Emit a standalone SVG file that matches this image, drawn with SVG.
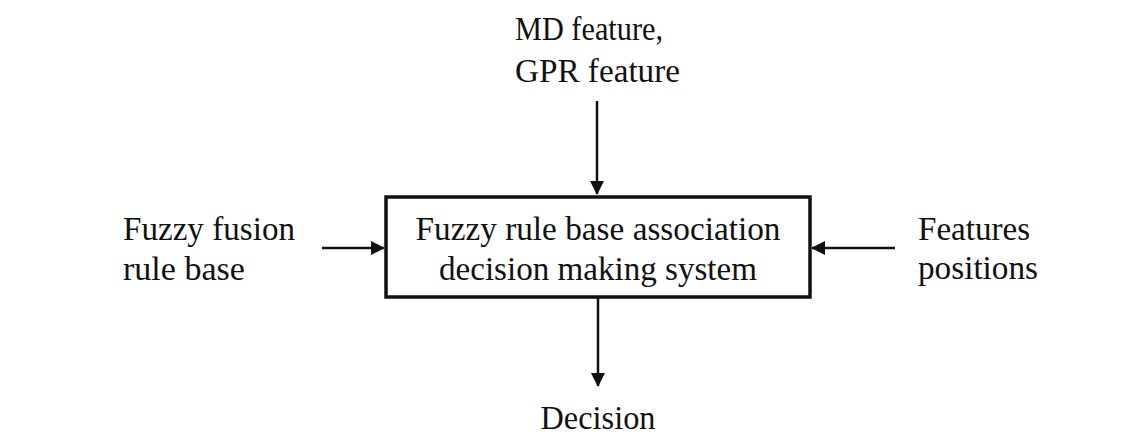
<svg xmlns="http://www.w3.org/2000/svg" width="1145" height="435" viewBox="0 0 1145 435">
<style>
text{font-family:"Liberation Serif","DejaVu Serif",serif;font-size:34px;fill:#111}
.c{stroke:#111;stroke-width:2.5;fill:none}
</style>
<defs>
<marker id="ahL" markerWidth="14" markerHeight="14" refX="13" refY="7" orient="auto" markerUnits="userSpaceOnUse" viewBox="0 0 14 14">
<path d="M0,0 L14,7 L0,14 Z" fill="#111"/>
</marker>
</defs>
<rect width="1145" height="435" fill="#fff"/>
<g id="connectors">
<line class="c" x1="597" y1="101" x2="597" y2="194" marker-end="url(#ahL)"/>
<line class="c" x1="322" y1="248" x2="384" y2="248" stroke-width="3.5" marker-end="url(#ahL)"/>
<line class="c" x1="895" y1="248" x2="812" y2="248" stroke-width="3.5" marker-end="url(#ahL)"/>
<line class="c" x1="598" y1="298" x2="598" y2="386" marker-end="url(#ahL)"/>
</g>
<g id="system">
<rect x="386" y="197" width="424" height="100" fill="none" stroke="#111" stroke-width="3.5"/>
<text x="598" y="240" text-anchor="middle" textLength="365" lengthAdjust="spacingAndGlyphs">Fuzzy rule base association</text>
<text x="598" y="280" text-anchor="middle" textLength="318" lengthAdjust="spacingAndGlyphs">decision making system</text>
</g>
<g id="md-gpr">
<text x="515" y="40" textLength="148" lengthAdjust="spacingAndGlyphs">MD feature,</text>
<text x="515" y="82" textLength="165" lengthAdjust="spacingAndGlyphs">GPR feature</text>
</g>
<g id="fusion-rule">
<text x="123" y="240" textLength="172" lengthAdjust="spacingAndGlyphs">Fuzzy fusion</text>
<text x="123" y="280" textLength="122" lengthAdjust="spacingAndGlyphs">rule base</text>
</g>
<g id="features">
<text x="918" y="240" textLength="112" lengthAdjust="spacingAndGlyphs">Features</text>
<text x="918" y="279" textLength="120" lengthAdjust="spacingAndGlyphs">positions</text>
</g>
<g id="decision">
<text x="598" y="429" text-anchor="middle" textLength="115" lengthAdjust="spacingAndGlyphs">Decision</text>
</g>
</svg>
